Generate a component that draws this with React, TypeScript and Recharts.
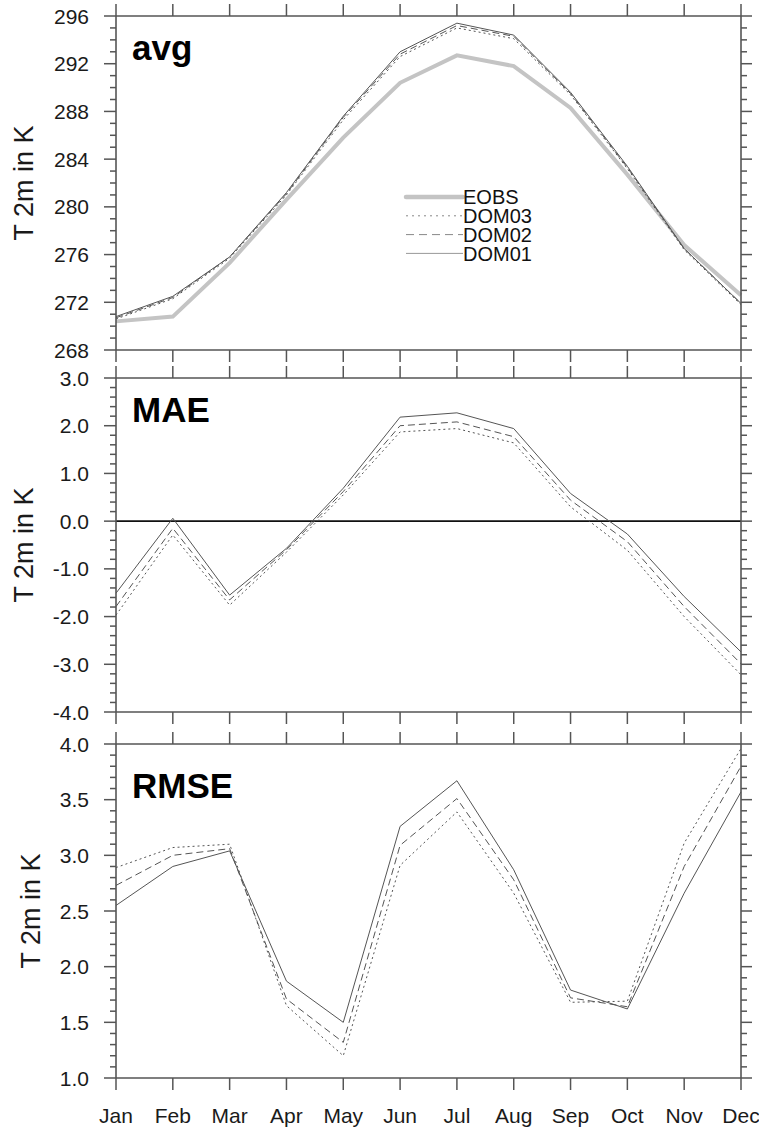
import React from 'react';
import { LineChart, Line, XAxis, YAxis, ReferenceLine, Legend } from 'recharts';

const months = ['Jan', 'Feb', 'Mar', 'Apr', 'May', 'Jun', 'Jul', 'Aug', 'Sep', 'Oct', 'Nov', 'Dec'];

// avg panel
const avgEOBS = [270.4, 270.8, 275.3, 280.6, 285.8, 290.4, 292.7, 291.8, 288.3, 282.7, 276.8, 272.6];
const avgDOM03 = [270.6, 272.3, 275.7, 281.0, 287.3, 292.6, 295.0, 294.1, 289.4, 283.2, 276.4, 271.8];
const avgDOM02 = [270.7, 272.4, 275.8, 281.1, 287.5, 292.8, 295.2, 294.3, 289.5, 283.3, 276.5, 271.9];
const avgDOM01 = [270.8, 272.5, 275.8, 281.2, 287.6, 293.0, 295.4, 294.4, 289.6, 283.4, 276.5, 271.9];

// MAE panel
const maeDOM03 = [-1.97, -0.29, -1.76, -0.65, 0.55, 1.87, 1.94, 1.64, 0.30, -0.61, -2.0, -3.22];
const maeDOM02 = [-1.79, -0.15, -1.65, -0.6, 0.62, 2.0, 2.08, 1.77, 0.44, -0.43, -1.79, -2.99];
const maeDOM01 = [-1.51, 0.06, -1.55, -0.57, 0.69, 2.18, 2.27, 1.94, 0.58, -0.27, -1.58, -2.74];

// RMSE panel
const rmseDOM03 = [2.89, 3.07, 3.10, 1.65, 1.20, 2.91, 3.39, 2.66, 1.68, 1.69, 3.11, 3.96];
const rmseDOM02 = [2.73, 3.00, 3.06, 1.71, 1.32, 3.09, 3.51, 2.78, 1.72, 1.64, 2.90, 3.80];
const rmseDOM01 = [2.55, 2.90, 3.04, 1.87, 1.50, 3.26, 3.67, 2.87, 1.79, 1.62, 2.66, 3.57];

// tick labels
const avgTicks = [268, 272, 276, 280, 284, 288, 292, 296];
const maeTicks = [-4.0, -3.0, -2.0, -1.0, 0.0, 1.0, 2.0, 3.0];
const rmseTicks = [1.0, 1.5, 2.0, 2.5, 3.0, 3.5, 4.0];

const legendNames = ['EOBS', 'DOM03', 'DOM02', 'DOM01'];

const FONT = '"Liberation Sans", Arial, Helvetica, sans-serif';
const FRAME = '#555';
const LINE = '#555';

const styles: Record<string, { stroke: string; width: number; dash?: string }> = {
  EOBS: { stroke: '#c4c4c4', width: 4 },
  DOM03: { stroke: LINE, width: 1, dash: '2 3' },
  DOM02: { stroke: LINE, width: 1, dash: '7 4' },
  DOM01: { stroke: LINE, width: 1 },
};

function minorTicks(lo: number, hi: number, step: number) {
  const out: number[] = [];
  const n = Math.round((hi - lo) / step);
  for (let k = 0; k <= n; k++) out.push(Math.round((lo + k * step) * 1000) / 1000);
  return out;
}

const isMajor = (v: number, majors: number[]) => majors.some((m) => Math.abs(m - v) < 1e-6);

const LeftTick = (p: any) => {
  const { x, y, payload, majors, fmt } = p;
  const v = payload.value;
  const maj = isMajor(v, majors);
  return (
    <g>
      <line x1={x - (maj ? 12 : 6)} x2={x} y1={y} y2={y} stroke={FRAME} strokeWidth={1.5} />
      {maj && (
        <text x={x - 27} y={y} dy="0.36em" textAnchor="end" fontSize={21} fill="#1a1a1a" fontFamily={FONT}>
          {fmt(v)}
        </text>
      )}
    </g>
  );
};

const RightTick = (p: any) => {
  const { x, y, payload, majors } = p;
  const maj = isMajor(payload.value, majors);
  return <line x1={x} x2={x + (maj ? 11 : 6)} y1={y} y2={y} stroke={FRAME} strokeWidth={1.5} />;
};

const TopTick = (p: any) => {
  const { x, y } = p;
  return <line x1={x} x2={x} y1={y - 12} y2={y} stroke={FRAME} strokeWidth={1.5} />;
};

const BottomTick = (p: any) => {
  const { x, y, payload, show } = p;
  return (
    <g>
      <line x1={x} x2={x} y1={y} y2={y + 12} stroke={FRAME} strokeWidth={1.5} />
      {show && (
        <text x={x} y={y + 37} dy="0.36em" textAnchor="middle" fontSize={21} fill="#1a1a1a" fontFamily={FONT}>
          {payload.value}
        </text>
      )}
    </g>
  );
};

const yLabel = (dx: number) => (props: any) => {
  const vb = props.viewBox || {};
  const cx = vb.x + (vb.width || 0) - dx;
  const cy = vb.y + vb.height / 2;
  return (
    <text
      x={cx}
      y={cy}
      transform={`rotate(-90 ${cx} ${cy})`}
      textAnchor="middle"
      fontSize={27}
      fill="#1a1a1a"
      fontFamily={FONT}
    >
      T 2m in K
    </text>
  );
};

const renderLegend = () => {
  return (
    <svg width={140} height={84} style={{ display: 'block' }}>
      {legendNames.map((n: string, i: number) => {
        const cy = 12 + i * 18.8;
        const lw = n === 'EOBS' ? 4.5 : 1;
        const col = n === 'DOM01' ? '#999' : n === 'EOBS' ? '#c4c4c4' : '#888';
        return (
          <g key={n}>
            <line
              x1={6}
              x2={63}
              y1={cy}
              y2={cy}
              stroke={col}
              strokeWidth={lw}
              strokeLinecap={n === 'EOBS' ? 'round' : 'butt'}
              strokeDasharray={n === 'DOM02' ? '8 5' : n === 'DOM03' ? '2 4' : undefined}
            />
            <text x={63} y={cy} dy="0.36em" fontSize={20} fill="#111" fontFamily={FONT}>
              {n}
            </text>
          </g>
        );
      })}
    </svg>
  );
};

type PanelProps = {
  top: number;
  height: number;
  mt: number;
  mb: number;
  series: { name: string; values: number[] }[];
  domain: [number, number];
  majors: number[];
  step: number;
  fmt: (v: number) => string;
  showMonths: boolean;
  labelDx: number;
  zero?: boolean;
  legend?: boolean;
};

function Panel(pp: PanelProps) {
  const data = months.map((m, i) => {
    const row: any = { m };
    pp.series.forEach((s) => (row[s.name] = s.values[i]));
    return row;
  });
  const ticks = minorTicks(pp.domain[0], pp.domain[1], pp.step);
  const axisLine = { stroke: FRAME, strokeWidth: 1.6 };
  return (
    <div style={{ position: 'absolute', left: 0, top: pp.top }}>
      <LineChart
        width={759}
        height={pp.height}
        data={data}
        margin={{ top: pp.mt - 1, right: 17, bottom: pp.mb - 1, left: 115 }}
      >
        <XAxis
          dataKey="m"
          height={1}
          tickSize={0}
          tickMargin={0}
          interval={0}
          tickLine={false}
          axisLine={axisLine}
          tick={(p: any) => <BottomTick {...p} show={pp.showMonths} />}
        />
        <XAxis
          xAxisId="top"
          orientation="top"
          dataKey="m"
          height={1}
          tickSize={0}
          tickMargin={0}
          interval={0}
          tickLine={false}
          axisLine={axisLine}
          tick={(p: any) => <TopTick {...p} />}
        />
        <YAxis
          type="number"
          domain={pp.domain}
          allowDataOverflow
          ticks={ticks}
          interval={0}
          width={1}
          tickSize={0}
          tickMargin={0}
          tickLine={false}
          axisLine={axisLine}
          tick={(p: any) => <LeftTick {...p} majors={pp.majors} fmt={pp.fmt} />}
          label={yLabel(pp.labelDx)}
        />
        <YAxis
          yAxisId="right"
          orientation="right"
          type="number"
          domain={pp.domain}
          allowDataOverflow
          ticks={ticks}
          interval={0}
          width={1}
          tickSize={0}
          tickMargin={0}
          tickLine={false}
          axisLine={axisLine}
          tick={(p: any) => <RightTick {...p} majors={pp.majors} />}
        />
        {pp.zero && <ReferenceLine y={0} stroke="#111" strokeWidth={1.6} />}
        {pp.series.map((s) => {
          const st = styles[s.name];
          return (
            <Line
              key={s.name}
              dataKey={s.name}
              name={s.name}
              type="linear"
              stroke={st.stroke}
              strokeWidth={st.width}
              strokeDasharray={st.dash}
              dot={false}
              activeDot={false}
              isAnimationActive={false}
            />
          );
        })}
        <Line
          xAxisId="top"
          yAxisId="right"
          dataKey={pp.series[pp.series.length - 1].name}
          stroke="transparent"
          strokeWidth={0}
          dot={false}
          activeDot={false}
          legendType="none"
          isAnimationActive={false}
        />
        {pp.legend && (
          <Legend
            layout="vertical"
            align="center"
            verticalAlign="middle"
            content={renderLegend}
            wrapperStyle={{ left: 400, top: 185, width: 140, height: 84 }}
          />
        )}
      </LineChart>
    </div>
  );
}

export default function App() {
  return (
    <div style={{ position: 'absolute', left: 0, top: 0, width: 759, height: 1129, background: '#fff', fontFamily: FONT }}>
      <Panel
        top={0}
        height={372}
        mt={16}
        mb={22}
        series={[
          { name: 'EOBS', values: avgEOBS },
          { name: 'DOM03', values: avgDOM03 },
          { name: 'DOM02', values: avgDOM02 },
          { name: 'DOM01', values: avgDOM01 },
        ]}
        domain={[268, 296]}
        majors={avgTicks}
        step={1}
        fmt={(v) => String(Math.round(v))}
        showMonths={false}
        labelDx={83}
        legend
      />
      <Panel
        top={364}
        height={364}
        mt={14}
        mb={16}
        series={[
          { name: 'DOM03', values: maeDOM03 },
          { name: 'DOM02', values: maeDOM02 },
          { name: 'DOM01', values: maeDOM01 },
        ]}
        domain={[-4, 3]}
        majors={maeTicks}
        step={0.2}
        fmt={(v) => v.toFixed(1)}
        showMonths={false}
        labelDx={83}
        zero
      />
      <Panel
        top={730}
        height={399}
        mt={14}
        mb={51}
        series={[
          { name: 'DOM03', values: rmseDOM03 },
          { name: 'DOM02', values: rmseDOM02 },
          { name: 'DOM01', values: rmseDOM01 },
        ]}
        domain={[1, 4]}
        majors={rmseTicks}
        step={0.1}
        fmt={(v) => v.toFixed(1)}
        showMonths
        labelDx={76}
      />
      <svg width={759} height={1129} style={{ position: 'absolute', left: 0, top: 0, pointerEvents: 'none' }}>
        <text x={132} y={60} fontSize={35} fontWeight="bold" fill="#000" fontFamily={FONT}>avg</text>
        <text x={132} y={422} fontSize={35} fontWeight="bold" fill="#000" fontFamily={FONT}>MAE</text>
        <text x={132} y={798} fontSize={35} fontWeight="bold" fill="#000" fontFamily={FONT}>RMSE</text>
      </svg>
    </div>
  );
}
